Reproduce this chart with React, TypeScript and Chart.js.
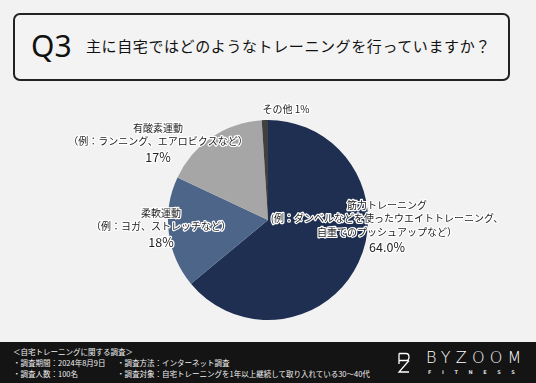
import React, { useEffect, useRef } from "react";
import { Chart, registerables } from "chart.js";
Chart.register(...registerables);

const categories = ["筋力トレーニング", "柔軟運動", "有酸素運動", "その他"];
const values = [64, 18, 17, 1];
const valueLabels = ["64.0%", "18%", "17%", "1%"];
const subLines = [
  ["(例：ダンベルなどを使ったウエイトトレーニング、", "自重でのプッシュアップなど）"],
  ["（例：ヨガ、ストレッチなど）"],
  ["（例：ランニング、エアロビクスなど）"],
  [],
];
const sliceColors = ["#1e2f52", "#4c6589", "#a6a6a6", "#404040"];
// label anchor relative to pie centre, in units of the radius
const labelAnchors = [
  [1.19, -0.15],
  [-1.07, -0.07],
  [-1.1, -0.92],
  [0.18, -1.11],
];

const FONT = "'Noto Sans CJK JP', 'Noto Sans', sans-serif";

const labelPlugin = {
  id: "sliceLabels",
  afterDatasetsDraw(chart: any) {
    const ctx = chart.ctx;
    const meta = chart.getDatasetMeta(0);
    meta.data.forEach((arc: any, i: number) => {
      const r = arc.outerRadius;
      const cx = arc.x + labelAnchors[i][0] * r;
      let y = arc.y + labelAnchors[i][1] * r;
      const lines: { t: string; f: string; gap: number }[] = [];
      if (subLines[i].length === 0) {
        lines.push({ t: categories[i] + " " + valueLabels[i], f: `10px ${FONT}`, gap: 0 });
      } else {
        lines.push({ t: categories[i], f: `10px ${FONT}`, gap: 0 });
        subLines[i].forEach((s) => lines.push({ t: s, f: `10px ${FONT}`, gap: 13.5 }));
        lines.push({ t: valueLabels[i], f: `12.5px ${FONT}`, gap: 15.5 });
      }
      ctx.save();
      ctx.textAlign = "center";
      ctx.textBaseline = "middle";
      lines.forEach((ln) => {
        y += ln.gap;
        ctx.font = ln.f;
        ctx.lineJoin = "round";
        ctx.lineWidth = 2.5;
        ctx.strokeStyle = "#ffffff";
        ctx.strokeText(ln.t, cx, y);
        ctx.fillStyle = "#222222";
        ctx.fillText(ln.t, cx, y);
      });
      ctx.restore();
    });
  },
};

function PieChart() {
  const ref = useRef<HTMLCanvasElement>(null);
  useEffect(() => {
    if (!ref.current) return;
    const chart = new Chart(ref.current, {
      type: "pie",
      data: {
        labels: categories,
        datasets: [
          {
            data: values,
            backgroundColor: sliceColors,
            borderWidth: 0,
          },
        ],
      },
      options: {
        responsive: false,
        animation: false,
        devicePixelRatio: 1,
        layout: { padding: { top: 120, bottom: 63, left: 168, right: 168 } },
        plugins: { legend: { display: false }, tooltip: { enabled: false } },
      },
      plugins: [labelPlugin],
    } as any);
    return () => chart.destroy();
  }, []);
  return (
    <canvas
      ref={ref}
      width={536}
      height={383}
      style={{ position: "absolute", left: 0, top: 0, width: 536, height: 383 }}
    />
  );
}

export default function App() {
  useEffect(() => {
    document.body.style.margin = "0";
  }, []);
  return (
    <div
      style={{
        position: "fixed",
        left: 0,
        top: 0,
        width: 536,
        height: 383,
        background: "#f2f2f2",
        overflow: "hidden",
        fontFamily: FONT,
      }}
    >
      <div
        style={{
          position: "absolute",
          left: 13,
          top: 13,
          width: 493,
          height: 64,
          border: "2px solid #222",
          borderRadius: 7,
          background: "#f3f3f3",
        }}
      />
      <div
        style={{
          position: "absolute",
          left: 31,
          top: 28,
          fontSize: 30,
          lineHeight: "36px",
          color: "#111",
          fontFamily: "'Noto Sans', sans-serif",
        }}
      >
        Q3
      </div>
      <div
        style={{
          position: "absolute",
          left: 86,
          top: 36,
          fontSize: 15,
          lineHeight: "20px",
          letterSpacing: 0.6,
          color: "#111",
          whiteSpace: "nowrap",
        }}
      >
        主に自宅ではどのようなトレーニングを行っていますか？
      </div>
      <PieChart />
      <div
        style={{
          position: "absolute",
          left: 0,
          top: 342,
          width: 536,
          height: 41,
          background: "#141414",
          color: "#f0f0f0",
          fontSize: 7.5,
          lineHeight: "10.5px",
          whiteSpace: "nowrap",
        }}
      >
        <div style={{ position: "absolute", left: 13, top: 5 }}>＜自宅トレーニングに関する調査＞</div>
        <div style={{ position: "absolute", left: 13, top: 16 }}>・調査期間：2024年8月9日</div>
        <div style={{ position: "absolute", left: 13, top: 26.5 }}>・調査人数：100名</div>
        <div style={{ position: "absolute", left: 117, top: 16 }}>・調査方法：インターネット調査</div>
        <div style={{ position: "absolute", left: 117, top: 26.5 }}>
          ・調査対象：自宅トレーニングを1年以上継続して取り入れている30〜40代
        </div>
        <svg
          style={{ position: "absolute", left: 397, top: 10 }}
          width={14}
          height={22}
          viewBox="0 0 14 22"
        >
          <path
            d="M2 1.5 H9 Q12 1.5 12 5 Q12 8.5 9 8.5 H2 M12 8.5 L2 20 H12 M2 1.5 V12"
            fill="none"
            stroke="#fff"
            strokeWidth={1.3}
          />
        </svg>
        <div
          style={{
            position: "absolute",
            left: 426,
            top: 8,
            fontSize: 16,
            lineHeight: "16px",
            letterSpacing: 5.2,
            color: "#fff",
            fontFamily: "'DejaVu Sans', sans-serif",
            fontWeight: 300,
          }}
        >
          BYZOOM
        </div>
        <div
          style={{
            position: "absolute",
            left: 428,
            top: 27,
            fontSize: 5,
            lineHeight: "6px",
            letterSpacing: 10.6,
            color: "#ddd",
            fontFamily: "'DejaVu Sans', sans-serif",
            fontWeight: 700,
          }}
        >
          FITNESS
        </div>
      </div>
    </div>
  );
}
